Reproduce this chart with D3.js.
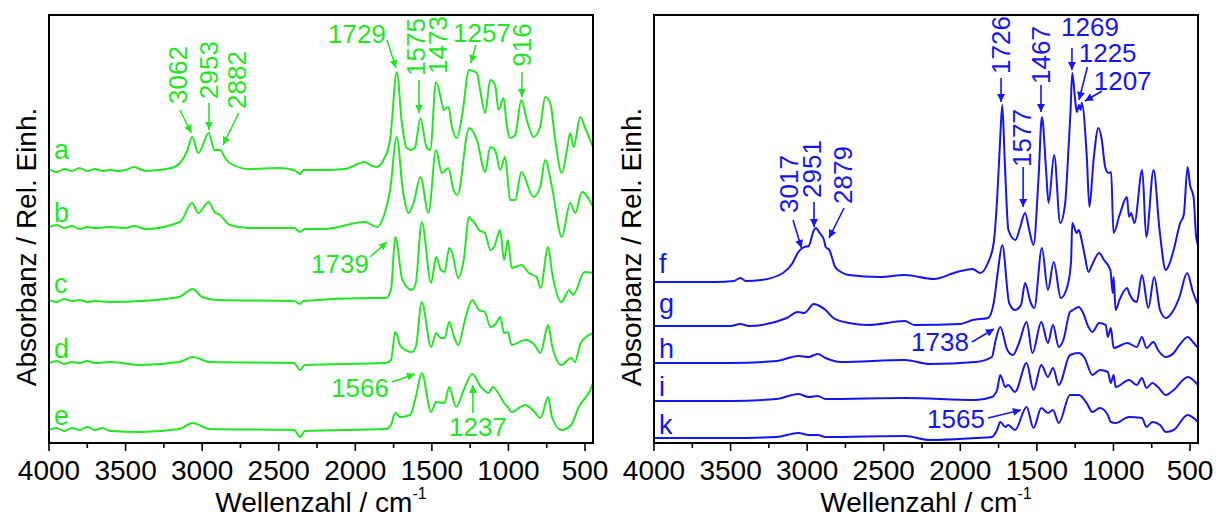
<!DOCTYPE html>
<html>
<head>
<meta charset="utf-8">
<script src="https://cdn.jsdelivr.net/npm/d3@7"></script>
<style>
  body { margin: 0; background: #fff; }
  text { font-family: "Liberation Sans", Arial, sans-serif; }
</style>
</head>
<body>
<div id="chart"></div>
<script>
// IR spectra, [wavenumber cm-1, rel. absorbance] (stacked, offsets included)
const specA = [[4000,274],[3950,271],[3900,274],[3850,272],[3800,275],[3750,272],[3700,274],[3650,272],[3600,273],[3550,272],[3500,273],[3445,276],[3370,272],[3200,275],[3145,280],[3095,293],[3065,306],[3025,290],[2957,310],[2920,293],[2883,293],[2850,285],[2820,280],[2695,274],[2500,275],[2400,273],[2358,269],[2340,273],[2200,273],[2070,274],[1938,281],[1903,278],[1860,276],[1816,283],[1773,303],[1729,371],[1696,320],[1664,295],[1631,293],[1609,296],[1575,325],[1533,295],[1511,293],[1473,361],[1435,340],[1424,333],[1392,336],[1369,316],[1337,305],[1304,326],[1257,373],[1206,370],[1185,353],[1152,330],[1119,363],[1087,358],[1065,333],[1032,345],[1010,316],[989,305],[956,308],[916,343],[880,323],[837,306],[793,316],[760,346],[727,340],[695,303],[651,270],[618,293],[597,310],[575,296],[531,326],[499,315],[448,296]];
const specB = [[4000,216],[3950,218],[3900,215],[3850,217],[3800,214],[3750,216],[3700,215],[3600,216],[3500,215],[3445,217],[3370,214],[3145,221],[3065,240],[3025,230],[2957,241],[2920,231],[2883,228],[2820,218],[2695,215],[2400,215],[2358,211],[2330,214],[2200,214],[1938,221],[1857,216],[1816,226],[1773,253],[1729,306],[1690,253],[1653,230],[1620,240],[1575,266],[1522,230],[1473,293],[1435,270],[1392,275],[1359,253],[1333,248],[1257,315],[1206,303],[1152,271],[1119,296],[1087,293],[1054,273],[1022,286],[989,243],[956,243],[916,271],[837,246],[793,256],[760,283],[716,256],[651,206],[597,240],[564,230],[520,251],[448,236]];
const specC = [[4000,143],[3950,141],[3900,144],[3850,142],[3800,143],[3750,141],[3700,142],[3600,141],[3400,142],[3150,146],[3062,154],[3000,146],[2900,143],[2400,142],[2360,139],[2340,142],[1900,145],[1800,145],[1767,153],[1739,206],[1692,163],[1630,153],[1605,160],[1566,221],[1505,160],[1472,186],[1442,173],[1417,171],[1387,195],[1367,190],[1329,165],[1292,183],[1257,226],[1240,223],[1225,221],[1192,213],[1154,210],[1117,193],[1094,196],[1054,213],[1029,183],[1004,203],[979,175],[916,178],[866,170],[816,166],[791,155],[741,196],[716,171],[654,141],[603,153],[578,148],[503,171],[448,170]];
const specD = [[4000,80],[3950,82],[3900,79],[3850,81],[3800,80],[3750,82],[3700,80],[3600,81],[3400,78],[3150,81],[3062,86],[2950,81],[2400,80],[2360,73],[2330,78],[1800,80],[1767,83],[1739,111],[1705,97],[1692,95],[1630,91],[1605,96],[1566,141],[1505,96],[1472,110],[1442,105],[1417,105],[1387,121],[1355,106],[1329,98],[1279,126],[1237,143],[1192,133],[1154,131],[1117,116],[1079,120],[1054,126],[1029,110],[1004,111],[979,98],[891,103],[829,98],[791,90],[741,118],[716,98],[654,78],[591,85],[566,81],[528,100],[448,110]];
const specE = [[4000,13],[3950,15],[3900,12],[3850,15],[3800,13],[3750,16],[3700,13],[3650,15],[3600,12],[3400,11],[3150,14],[3062,20],[2950,14],[2400,13],[2360,6],[2330,12],[1800,14],[1767,18],[1739,30],[1705,26],[1642,28],[1605,46],[1566,70],[1505,31],[1472,41],[1417,40],[1387,56],[1342,36],[1292,53],[1237,69],[1179,56],[1129,50],[1104,56],[1066,50],[1029,40],[1004,36],[979,31],[891,38],[829,31],[791,25],[741,46],[716,26],[654,13],[591,18],[541,36],[466,53],[448,60]];

const specF = [[4000,161],[3600,161],[3480,162],[3436,165],[3400,162],[3300,163],[3158,170],[3095,180],[3062,190],[3031,195],[3017,196],[2990,197],[2956,213],[2943,215],[2918,210],[2890,203],[2879,196],[2855,193],[2817,176],[2779,171],[2728,168],[2526,166],[2362,168],[2173,164],[2021,171],[1920,174],[1870,170],[1820,180],[1782,200],[1760,243],[1740,303],[1726,338],[1710,283],[1686,213],[1640,203],[1609,216],[1577,230],[1550,213],[1522,198],[1490,263],[1467,326],[1440,273],[1424,240],[1387,288],[1348,220],[1315,240],[1300,276],[1280,333],[1269,370],[1250,343],[1239,331],[1225,338],[1214,333],[1207,340],[1174,286],[1157,236],[1130,283],[1098,315],[1076,303],[1054,276],[1032,270],[1015,271],[1000,210],[960,228],[912,246],[898,226],[885,230],[863,220],[812,273],[786,206],[738,273],[699,213],[658,173],[630,181],[607,193],[564,220],[541,228],[516,276],[500,258],[477,246],[460,206],[448,198]];
const specG = [[4000,117],[3500,117],[3436,119],[3380,117],[3133,125],[3062,131],[3019,130],[2956,139],[2918,137],[2880,133],[2829,125],[2728,120],[2600,118],[2362,122],[2300,118],[2000,119],[1920,123],[1820,125],[1782,140],[1756,170],[1726,198],[1681,140],[1643,133],[1604,138],[1577,160],[1542,141],[1517,135],[1467,195],[1428,153],[1390,181],[1344,145],[1302,156],[1277,181],[1269,220],[1240,210],[1226,213],[1208,203],[1188,188],[1163,171],[1140,178],[1093,190],[1062,183],[1020,173],[1005,150],[999,166],[986,133],[961,143],[910,155],[898,150],[848,141],[814,168],[772,135],[734,166],[696,133],[658,125],[607,133],[569,146],[519,170],[481,151],[448,138]];
const specH = [[4000,80],[3500,80],[3200,82],[3057,87],[2990,86],[2931,89],[2880,85],[2779,81],[2362,83],[2200,79],[1900,81],[1794,86],[1769,103],[1739,116],[1693,93],[1656,88],[1617,100],[1567,121],[1529,90],[1471,121],[1428,100],[1395,118],[1357,96],[1327,103],[1284,131],[1264,133],[1226,136],[1201,131],[1163,116],[1138,111],[1093,120],[1050,118],[1037,106],[1017,115],[999,95],[910,100],[848,96],[814,106],[784,95],[739,101],[709,93],[658,86],[607,90],[569,98],[515,106],[481,101],[448,95]];
const specI = [[4000,42],[3500,42],[3200,44],[3057,49],[2990,46],[2931,47],[2880,44],[2362,45],[1900,43],[1794,46],[1760,53],[1739,68],[1706,56],[1688,58],[1643,51],[1567,80],[1522,53],[1471,78],[1428,66],[1395,75],[1357,58],[1284,88],[1226,90],[1188,85],[1138,68],[1088,73],[1037,71],[1017,60],[999,68],[986,56],[898,63],[848,58],[814,65],[784,55],[746,60],[709,56],[658,48],[607,53],[515,66],[448,58]];
const specK = [[4000,5],[3500,5],[3200,6],[3057,10],[2990,8],[2931,8],[2880,6],[2362,7],[2200,3],[1900,5],[1794,6],[1760,13],[1739,21],[1706,16],[1688,18],[1643,13],[1567,36],[1522,15],[1471,35],[1428,30],[1395,33],[1357,20],[1284,48],[1226,48],[1175,40],[1138,31],[1088,35],[1037,28],[1017,21],[986,20],[898,26],[814,25],[784,16],[746,21],[696,18],[658,11],[607,13],[515,28],[448,21]];

// sample names and where their letters sit (rel. absorbance)
const namesLeft = ["a", "b", "c", "d", "e"];
const namesRight = ["f", "g", "h", "i", "k"];
const nameLevelsLeft = [284, 221, 150, 85, 18];
const nameLevelsRight = [170, 130, 85, 47, 9];

const xTicks = [4000, 3500, 3000, 2500, 2000, 1500, 1000, 500];
const xMinor = [3750, 3250, 2750, 2250, 1750, 1250, 750];

// peak labels: text centre, arrow tail and arrow tip in data units
const notesLeft = [
  {t: "3062", rot: true, at: [3158, 368], tail: [3145, 333], tip: [3070, 310]},
  {t: "2953", rot: true, at: [2955, 373], tail: [2955, 340], tip: [2955, 313]},
  {t: "2882", rot: true, at: [2773, 363], tail: [2760, 330], tip: [2864, 298]},
  {t: "1729", rot: false, at: [1989, 409], tail: [1793, 403], tip: [1734, 375]},
  {t: "1575", rot: true, at: [1604, 396], tail: [1584, 363], tip: [1584, 330]},
  {t: "1473", rot: true, at: [1458, 398]},
  {t: "1257", rot: false, at: [1173, 410], tail: [1212, 398], tip: [1245, 380]},
  {t: "916", rot: true, at: [912, 398], tail: [912, 371], tip: [912, 346]},
  {t: "1739", rot: false, at: [2100, 179], tail: [1904, 186], tip: [1793, 201]},
  {t: "1566", rot: false, at: [1969, 55], tail: [1760, 61], tip: [1610, 69]},
  {t: "1237", rot: false, at: [1199, 16], tail: [1232, 30], tip: [1232, 58]}
];
const notesRight = [
  {t: "3017", rot: true, at: [3119, 259], tail: [3092, 223], tip: [3037, 195]},
  {t: "2951", rot: true, at: [2968, 274], tail: [2955, 241], tip: [2955, 216]},
  {t: "2879", rot: true, at: [2766, 268], tail: [2759, 235], tip: [2857, 205]},
  {t: "1726", rot: true, at: [1734, 398], tail: [1734, 365], tip: [1734, 341]},
  {t: "1577", rot: true, at: [1600, 305], tail: [1590, 276], tip: [1590, 236]},
  {t: "1467", rot: true, at: [1473, 388], tail: [1473, 358], tip: [1473, 331]},
  {t: "1269", rot: false, at: [1153, 416], tail: [1271, 395], tip: [1271, 373]},
  {t: "1225", rot: false, at: [1038, 390], tail: [1170, 376], tip: [1225, 343]},
  {t: "1207", rot: false, at: [940, 362], tail: [1075, 352], tip: [1186, 342]},
  {t: "1738", rot: false, at: [2133, 101], tail: [1924, 101], tip: [1780, 114]},
  {t: "1565", rot: false, at: [2028, 24], tail: [1819, 25], tip: [1604, 33]}
];

const width = 1216;
const height = 517;

const svg = d3.select("#chart")
  .append("svg")
  .attr("width", width)
  .attr("height", height);

const panels = [
  {id: "L", left: 49, right: 593, top: 15, bottom: 443, color: "#22e622",
   series: [specA, specB, specC, specD, specE], names: namesLeft, levels: nameLevelsLeft, notes: notesLeft},
  {id: "R", left: 654, right: 1198, top: 15, bottom: 443, color: "#1414f5",
   series: [specF, specG, specH, specI, specK], names: namesRight, levels: nameLevelsRight, notes: notesRight}
];

const defs = svg.append("defs");

panels.forEach(p => {
  // scales
  const x = d3.scaleLinear().domain([4000, 448]).range([p.left, p.right]);
  const y = d3.scaleLinear().domain([0, 428]).range([p.bottom, p.top]);

  defs.append("clipPath").attr("id", "clip" + p.id)
    .append("rect")
    .attr("x", p.left).attr("y", p.top)
    .attr("width", p.right - p.left).attr("height", p.bottom - p.top);

  defs.append("marker")
    .attr("id", "arrow" + p.id)
    .attr("markerUnits", "userSpaceOnUse")
    .attr("viewBox", "0 0 10 10")
    .attr("refX", 10).attr("refY", 5)
    .attr("markerWidth", 10).attr("markerHeight", 8)
    .attr("orient", "auto")
    .append("path")
    .attr("d", "M0,0 L10,5 L0,10 Z")
    .attr("fill", p.color);

  // spectra
  const line = d3.line()
    .x(d => x(d[0]))
    .y(d => y(d[1]))
    .curve(d3.curveMonotoneX);

  svg.append("g")
    .attr("clip-path", `url(#clip${p.id})`)
    .selectAll("path")
    .data(p.series)
    .join("path")
    .attr("d", line)
    .attr("fill", "none")
    .attr("stroke", p.color)
    .attr("stroke-width", 2)
    .attr("stroke-linejoin", "round");

  // sample letters
  svg.append("g")
    .selectAll("text")
    .data(p.names)
    .join("text")
    .attr("x", x(3967))
    .attr("y", (d, i) => y(p.levels[i]))
    .attr("font-size", 27)
    .attr("fill", p.color)
    .text(d => d);

  // peak arrows + labels
  const notes = svg.append("g");
  p.notes.filter(n => n.tip).forEach(n => {
    notes.append("line")
      .attr("x1", x(n.tail[0])).attr("y1", y(n.tail[1]))
      .attr("x2", x(n.tip[0])).attr("y2", y(n.tip[1]))
      .attr("stroke", p.color)
      .attr("stroke-width", 1.6)
      .attr("marker-end", `url(#arrow${p.id})`);
  });
  notes.selectAll("text")
    .data(p.notes)
    .join("text")
    .attr("transform", n => `translate(${x(n.at[0])},${y(n.at[1])})` + (n.rot ? " rotate(-90)" : ""))
    .attr("text-anchor", "middle")
    .attr("dominant-baseline", "central")
    .attr("font-size", 26)
    .attr("fill", p.color)
    .text(n => n.t);

  // bottom axis, ticks outward
  const axis = svg.append("g").attr("transform", `translate(0,${p.bottom})`);
  axis.selectAll(".major")
    .data(xTicks)
    .join("line")
    .attr("x1", d => x(d)).attr("x2", d => x(d))
    .attr("y1", 0).attr("y2", 8)
    .attr("stroke", "#000").attr("stroke-width", 1.6);
  axis.selectAll(".minor")
    .data(xMinor)
    .join("line")
    .attr("x1", d => x(d)).attr("x2", d => x(d))
    .attr("y1", 0).attr("y2", 5)
    .attr("stroke", "#000").attr("stroke-width", 1.6);
  axis.selectAll("text")
    .data(xTicks)
    .join("text")
    .attr("x", d => x(d))
    .attr("y", 37)
    .attr("text-anchor", "middle")
    .attr("font-size", 28)
    .attr("fill", "#000")
    .text(d => d);

  // frame
  svg.append("rect")
    .attr("x", p.left).attr("y", p.top)
    .attr("width", p.right - p.left).attr("height", p.bottom - p.top)
    .attr("fill", "none")
    .attr("stroke", "#000")
    .attr("stroke-width", 2);

  // axis titles
  const xt = svg.append("text")
    .attr("x", (p.left + p.right) / 2)
    .attr("y", 512)
    .attr("text-anchor", "middle")
    .attr("font-size", 28)
    .text("Wellenzahl / cm");
  xt.append("tspan")
    .attr("font-size", 16)
    .attr("dy", -13)
    .text("-1");

  svg.append("text")
    .attr("transform", `translate(${p.left - 13},${(p.top + p.bottom) / 2 + 18}) rotate(-90)`)
    .attr("text-anchor", "middle")
    .attr("font-size", 28)
    .text("Absorbanz / Rel. Einh.");
});
</script>
</body>
</html>
